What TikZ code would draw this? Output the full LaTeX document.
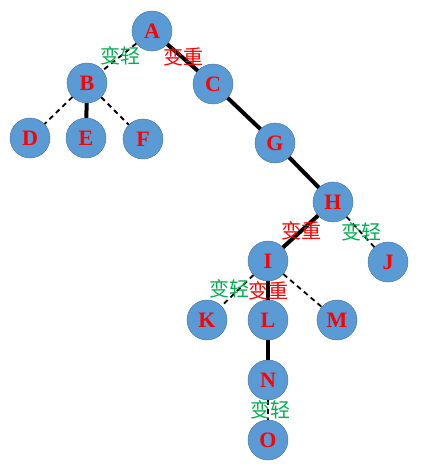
\documentclass[tikz,border=0pt]{standalone}
\usepackage{fontspec}
\setmainfont{Liberation Serif}
\newfontfamily\cjk{Noto Sans CJK SC}
\usepackage{xcolor}
\usetikzlibrary{positioning}
\definecolor{nodefill}{RGB}{91,155,213}
\definecolor{nodeline}{RGB}{65,113,156}
\definecolor{heavyred}{RGB}{255,0,0}
\definecolor{lightgreen}{RGB}{0,176,80}
\tikzset{
  treenode/.style={
    circle, draw=nodeline, fill=nodefill, minimum size=40pt,
    inner sep=0pt, font=\fontsize{22}{22}\selectfont\bfseries, text=heavyred
  },
  heavy/.style={draw, line width=4pt},
  light/.style={draw, dashed, line width=1.8pt, dash pattern=on 5pt off 4pt},
  heavytag/.style={font=\cjk\fontsize{20}{20}\selectfont, text=heavyred, inner sep=0pt},
  lighttag/.style={font=\cjk\fontsize{20}{20}\selectfont, text=lightgreen, inner sep=0pt},
}
\begin{document}
\begin{tikzpicture}[x=1pt, y=-1pt]
  \useasboundingbox (0,0) rectangle (420,465);
  % tree nodes
  \node[treenode] (A) at (152,31) {A};
  \node[treenode] (B) at (87,83) {B};
  \node[treenode] (C) at (213,84) {C};
  \node[treenode] (D) at (30,138) {D};
  \node[treenode] (E) at (86,138) {E};
  \node[treenode] (F) at (143,139) {F};
  \node[treenode] (G) at (275,143) {G};
  \node[treenode] (H) at (333,202) {H};
  \node[treenode] (I) at (268,261) {I};
  \node[treenode] (J) at (388,262) {J};
  \node[treenode] (K) at (207,320) {K};
  \node[treenode] (L) at (268,320) {L};
  \node[treenode] (M) at (337,320) {M};
  \node[treenode] (N) at (268,380) {N};
  \node[treenode] (O) at (268,440) {O};

  % edges
  \path[light] (A) -- (B);
  \path[heavy] (A) -- (C);
  \path[light] (B) -- (D);
  \path[heavy] (B) -- (E);
  \path[light] (B) -- (F);
  \path[heavy] (C) -- (G);
  \path[heavy] (G) -- (H);
  \path[heavy] (H) -- (I);
  \path[light] (H) -- (J);
  \path[light] (I) -- (K);
  \path[heavy] (I) -- (L);
  \path[light] (I) -- (M);
  \path[heavy] (L) -- (N);
  \path[light] (N) -- (O);

  % tags
  \node[lighttag] (tAB) at (120,56) {变轻};
  \node[heavytag] (tAC) at (183,57) {变重};
  \node[heavytag] (tHI) at (301,231) {变重};
  \node[lighttag] (tHJ) at (361,232) {变轻};
  \node[lighttag] (tIK) at (229,289) {变轻};
  \node[heavytag] (tIL) at (268,291) {变重};
  \node[lighttag] (tNO) at (270,410) {变轻};
\end{tikzpicture}
\end{document}
